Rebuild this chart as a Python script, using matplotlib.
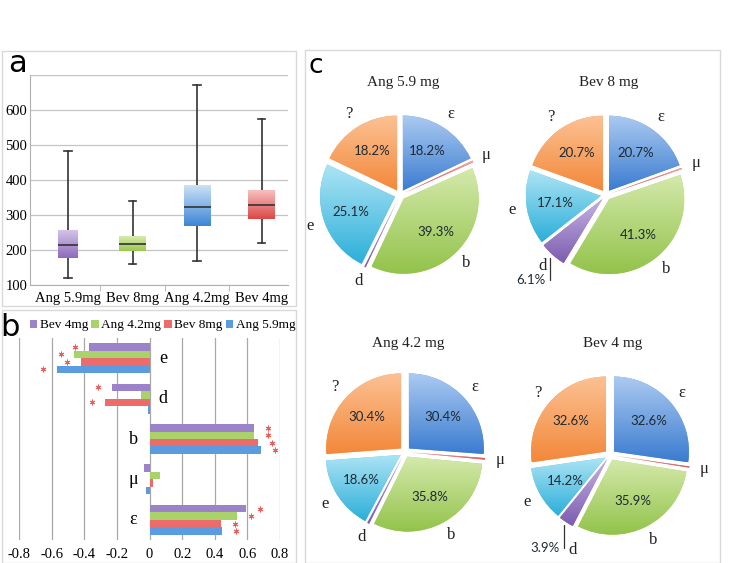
import matplotlib.pyplot as plt
import numpy as np
from matplotlib.patches import Rectangle
from matplotlib.colors import LinearSegmentedColormap

W, H = 730, 563
SERIF = ['Liberation Serif', 'DejaVu Serif']
SANS = ['Lato', 'DejaVu Sans']
plt.rcParams['font.family'] = SERIF

# ---- panel a: box plot ----
groups = ['Ang 5.9mg', 'Bev 8mg', 'Ang 4.2mg', 'Bev 4mg']
whislo = [120, 160, 168, 220]
q1 = [178, 197, 268, 288]
med = [213, 218, 324, 330]
q3 = [258, 240, 387, 372]
whishi = [482, 340, 672, 573]
box_top = ['#d3c3e8', '#dcedb4', '#cfe3f7', '#f8c4c4']
box_bot = ['#8d6bbb', '#9cc84f', '#3d86d6', '#dc4747']
box_w = [0.3, 0.42, 0.42, 0.42]

# ---- panel b: horizontal bars ----
cats_b = ['e', 'd', 'b', 'μ', 'ε']
series_b = ['Bev 4mg', 'Ang 4.2mg', 'Bev 8mg', 'Ang 5.9mg']
bev4 = [-0.37, -0.23, 0.64, -0.035, 0.59]
ang42 = [-0.46, -0.05, 0.643, 0.063, 0.535]
bev8 = [-0.42, -0.27, 0.665, 0.02, 0.44]
ang59 = [-0.57, -0.01, 0.685, -0.02, 0.445]
sig_bev4 = [1, 1, 1, 0, 1]
sig_ang42 = [1, 0, 1, 0, 1]
sig_bev8 = [1, 1, 1, 0, 1]
sig_ang59 = [1, 0, 1, 0, 1]
colors_b = ['#9b82c9', '#a9d36a', '#ec6b6b', '#5b9be0']
xticks_b = [-0.8, -0.6, -0.4, -0.2, 0, 0.2, 0.4, 0.6, 0.8]

# ---- panel c: pies ----
slices = ['ε', 'μ', 'b', 'd', 'e', '?']
pie_titles = ['Ang 5.9 mg', 'Bev 8 mg', 'Ang 4.2 mg', 'Bev 4 mg']
ang59_pct = [18.2, 0.4, 39.3, 0.3, 25.1, 18.2]
bev8_pct = [20.7, 0.3, 41.3, 6.1, 17.1, 20.7]
ang42_pct = [30.4, 0.4, 35.8, 0.5, 18.6, 30.4]
bev4_pct = [32.6, 0.3, 35.9, 3.9, 14.2, 32.6]
pie_colors = ['#6a9de0', '#e67c7c', '#afd36c', '#9a7fc6', '#5cc3e5', '#f89c55']
pie_light = ['#abcaf1', '#f2a6a6', '#d4e9ab', '#c4b3e2', '#ade4f5', '#fcc193']
pie_dark = ['#3b7cd0', '#d85050', '#93c34b', '#7d5db0', '#2cafd9', '#f3883a']


def px_rect(x0, y0, x1, y1):
    return [x0 / W, 1 - y1 / H, (x1 - x0) / W, (y1 - y0) / H]


fig = plt.figure(figsize=(W / 100, H / 100), dpi=100)

# panel frames
for x0, y0, x1, y1 in [(2, 51, 296, 306), (2, 310, 296, 563), (305, 50, 720, 563)]:
    fig.add_artist(Rectangle((x0 / W, 1 - y1 / H), (x1 - x0) / W, (y1 - y0) / H,
                             transform=fig.transFigure, fill=False, ec='#d9d9d9', lw=1))

fig.text(17 / W, 1 - 64 / H, 'a', fontsize=22, ha='center', va='center', family='DejaVu Sans')
fig.text(10 / W, 1 - 327 / H, 'b', fontsize=22, ha='center', va='center', family='DejaVu Sans')
fig.text(316 / W, 1 - 66 / H, 'c', fontsize=19, ha='center', va='center', family='DejaVu Sans')

grad = np.linspace(0, 1, 100).reshape(-1, 1)

# ---------------- panel a ----------------
ax = fig.add_axes(px_rect(30, 75, 288, 285))
pos = np.arange(len(groups))
stats = [dict(whislo=whislo[i], q1=q1[i], med=med[i], q3=q3[i], whishi=whishi[i], label=groups[i])
         for i in range(len(groups))]
bp = ax.bxp(stats, positions=pos, widths=box_w, patch_artist=True, showfliers=False,
            capwidths=0.12,
            boxprops=dict(facecolor='none', edgecolor='none'),
            whiskerprops=dict(color='#333333', lw=1.2),
            capprops=dict(color='#333333', lw=1.2),
            medianprops=dict(color='#333333', lw=1.2, zorder=4))
for i, patch in enumerate(bp['boxes']):
    cmap = LinearSegmentedColormap.from_list('g', [box_top[i], box_bot[i]])
    im = ax.imshow(grad, cmap=cmap, aspect='auto', zorder=3,
                   extent=[pos[i] - box_w[i] / 2, pos[i] + box_w[i] / 2, q1[i], q3[i]], origin='upper')
    im.set_clip_path(patch)
ax.set_xlim(-0.59, 3.41)
ax.set_ylim(100, 700)
ax.set_yticks(range(100, 701, 100))
ax.set_yticklabels(['100', '200', '300', '400', '500', '600', ''])
ax.yaxis.grid(True, color='#c4c4c4', lw=0.9)
ax.set_axisbelow(True)
for s in ['top', 'right']:
    ax.spines[s].set_visible(False)
ax.spines['left'].set_color('#b0b0b0')
ax.spines['bottom'].set_color('#b0b0b0')
ax.set_xticks(pos)
ax.set_xticklabels(groups)
ax.set_xticks([0.5, 1.5, 2.5], minor=True)
ax.tick_params(axis='x', which='major', length=0, pad=5, labelsize=10.5)
ax.tick_params(axis='x', which='minor', length=4, color='#b0b0b0')
ax.tick_params(axis='y', length=0, pad=2, labelsize=10.5)

# ---------------- panel b ----------------
axb = fig.add_axes(px_rect(19, 338, 280, 540))
yc = np.arange(len(cats_b))[::-1]
h = 0.185
vals = [bev4, ang42, bev8, ang59]
sigs = [sig_bev4, sig_ang42, sig_bev8, sig_ang59]
offs = [1.5, 0.5, -0.5, -1.5]
for k in range(4):
    yy = yc + offs[k] * h
    axb.barh(yy, vals[k], height=h, color=colors_b[k], label=series_b[k], zorder=3)
    v = np.array(vals[k])
    m = np.array(sigs[k]) == 1
    # significance asterisks just beyond the bar ends
    axb.scatter(v[m] + np.sign(v[m]) * 0.085, yy[m], marker=(6, 2, 0), s=13,
                color='#e8605e', linewidths=0.7, zorder=4)
for j, c in enumerate(cats_b):
    tot = bev4[j] + ang42[j] + bev8[j] + ang59[j]
    axb.text(0.085 if tot < 0 else -0.1, yc[j], c, fontsize=13,
             ha='center', va='center')
axb.set_xlim(-0.8, 0.8)
axb.set_ylim(-0.5, 4.5)
axb.set_xticks(xticks_b)
axb.set_xticklabels([f'{v:g}' for v in xticks_b])
axb.set_yticks([])
axb.xaxis.grid(True, color='#a8a8a8', lw=0.9)
axb.set_axisbelow(True)
for s in axb.spines.values():
    s.set_visible(False)
axb.tick_params(axis='x', length=0, pad=6, labelsize=10.5)
axb.legend(loc='lower center', bbox_to_anchor=(0.55, 1.0), ncol=4, frameon=False,
           handlelength=0.55, handleheight=0.55, handletextpad=0.2, columnspacing=0.25,
           borderaxespad=0.1, fontsize=9.5)

# ---------------- panel c ----------------
centers = [(400, 195), (606, 195), (405, 452), (610, 455)]
title_y = [83, 83, 343, 343]
pies = [ang59_pct, bev8_pct, ang42_pct, bev4_pct]
R = 75.0
S = 240
nudge = {(3, 'd'): (0.2, -0.2)}
for p, (cx, cy) in enumerate(centers):
    axp = fig.add_axes(px_rect(cx - S / 2, cy - S / 2, cx + S / 2, cy + S / 2))
    axp.patch.set_visible(False)
    wedges, texts = axp.pie(pies[p], colors=pie_colors, startangle=90, counterclock=False,
                            explode=[0.07] * len(slices), labels=slices, labeldistance=1.2,
                            textprops=dict(fontsize=12, color='#222222'))
    for t in texts:
        t.set_ha('center')
        t.set_va('center')
        if (p, t.get_text()) in nudge:
            dx, dy = nudge[(p, t.get_text())]
            x, y = t.get_position()
            t.set_position((x + dx, y + dy))
    for i, (w, v) in enumerate(zip(wedges, pies[p])):
        # vertical light-to-dark fill inside each slice
        bb = w.get_path().get_extents()
        cmap = LinearSegmentedColormap.from_list('s', [pie_light[i], pie_dark[i]])
        im = axp.imshow(grad, cmap=cmap, aspect='auto', origin='upper', zorder=2,
                        extent=[bb.x0, bb.x1, bb.y0, bb.y1])
        im.set_clip_path(w)
        ang = np.deg2rad((w.theta1 + w.theta2) / 2)
        wx, wy = w.center
        if v >= 10:
            axp.text(wx + 0.62 * np.cos(ang), wy + 0.62 * np.sin(ang), f'{v:.1f}%',
                     family=SANS, fontsize=9.5, ha='center', va='center', color='#1e2a33', zorder=5)
        elif v >= 1:
            xy = (1.12 * np.cos(ang), 1.12 * np.sin(ang))
            axp.annotate(f'{v:.1f}%', xy=xy, xytext=(xy[0] - 0.06, xy[1] - 0.3),
                         family=SANS, fontsize=9.5, ha='right', va='center', color='#1e2a33',
                         arrowprops=dict(arrowstyle='-', color='#333333', lw=0.9,
                                         connectionstyle='angle,angleA=0,angleB=90,rad=0',
                                         relpos=(1, 0.5), shrinkA=1, shrinkB=0))
    lim = S / 2 / R
    axp.set_xlim(-lim, lim)
    axp.set_ylim(-lim, lim)
    fig.text(cx / W + 0.004, 1 - title_y[p] / H, pie_titles[p], fontsize=11,
             ha='center', va='center', color='#222222')

fig.savefig('out.png', dpi=100)
